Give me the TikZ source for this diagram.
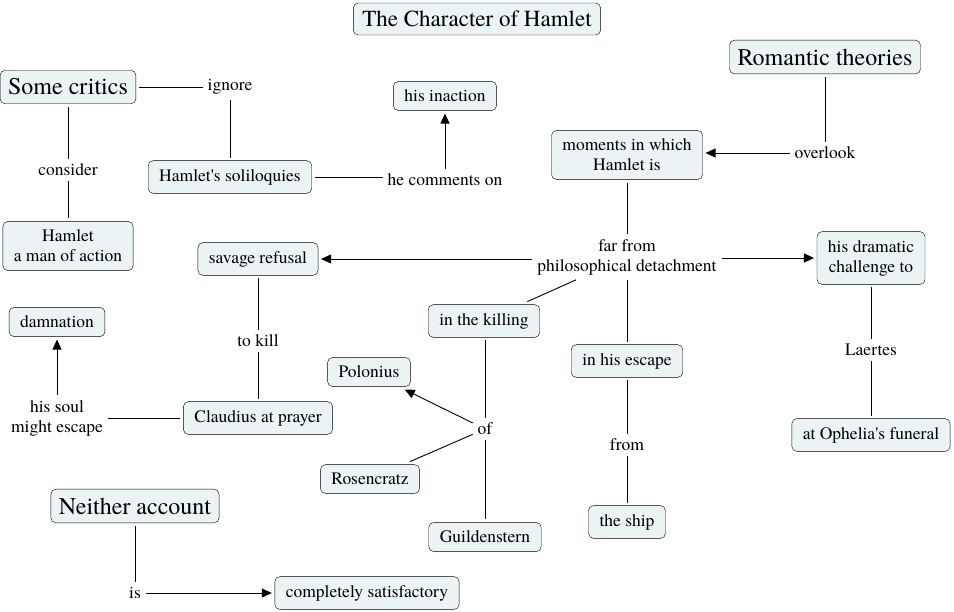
\documentclass[tikz,border=0pt]{standalone}
\usepackage{fontspec}
\setmainfont{texgyretermes}[Extension=.otf,UprightFont=*-regular,BoldFont=*-bold]
\usetikzlibrary{arrows.meta}
\definecolor{conceptfill}{HTML}{EBF3F5}

\begin{document}
\begin{tikzpicture}[
 x=1pt,y=-1pt,
 concept/.style={draw,rounded corners=5pt,fill=conceptfill,inner xsep=11pt,inner ysep=8.5pt,align=center,outer sep=3pt,font=\fontsize{17.5}{20}\selectfont},
 bigconcept/.style={concept,inner xsep=8pt,font=\fontsize{24}{28}\selectfont},
 link/.style={inner sep=2pt,outer sep=3pt,align=center,font=\fontsize{17.5}{20}\selectfont},
 con/.style={line width=0.9pt},
 arr/.style={con,-{Triangle[length=10pt,width=9pt]}}
]
\useasboundingbox (0,0) rectangle (954,611);
\node[concept,inner xsep=9pt,inner ysep=8pt,font=\fontsize{23}{26}\selectfont] (title) at (477,19) {The Character of Hamlet};
% critics branch
\node[bigconcept] (critics) at (68,87) {Some critics};
\node[link] (ignore) at (230,87) {ignore};
\node[link] (consider) at (68,170) {consider};
\node[concept] (action) at (68,246) {Hamlet\\a man of action};
\node[concept] (soliloquies) at (230,177) {Hamlet\textquotesingle s soliloquies};
\node[link] (comments) at (445,180) {he comments on};
\node[concept] (inaction) at (445,96) {his inaction};
% romantic branch
\node[bigconcept] (romantic) at (825,57) {Romantic theories};
\node[link] (overlook) at (825,153) {overlook};
\node[concept] (moments) at (627,155) {moments in which\\Hamlet is};
\node[link] (far) at (627,257) {far from\\philosophical detachment};
\node[concept] (savage) at (258,259) {savage refusal};
\node[link] (tokill) at (258,341) {to kill};
\node[concept] (claudius) at (258,418) {Claudius at prayer};
\node[link] (soul) at (57,418) {his soul\\might escape};
\node[concept] (damnation) at (57,322) {damnation};
\node[concept] (challenge) at (871,258) {his dramatic\\challenge to};
\node[link] (laertes) at (871,350) {Laertes};
\node[concept] (funeral) at (871,435) {at Ophelia\textquotesingle s funeral};
\node[concept] (killing) at (484,321) {in the killing};
\node[link] (of) at (485,429) {of};
\node[concept] (polonius) at (369,372) {Polonius};
\node[concept] (rosencratz) at (370,479) {Rosencratz};
\node[concept] (guildenstern) at (485,537) {Guildenstern};
\node[concept] (escape) at (627,361) {in his escape};
\node[link] (from) at (627,445) {from};
\node[concept] (ship) at (627,522) {the ship};
% neither
\node[bigconcept] (neither) at (135,506) {Neither account};
\node[link] (is) at (135,593) {is};
\node[concept] (satisfactory) at (367,593) {completely satisfactory};
% connectors
\draw[con] (critics)--(ignore); \draw[con] (ignore)--(soliloquies);
\draw[con] (critics)--(consider); \draw[con] (consider)--(action);
\draw[con] (soliloquies.east)--(soliloquies.east-|comments.west); \draw[arr] (comments)--(inaction);
\draw[con] (romantic)--(overlook); \draw[arr] (overlook.west)--(overlook.west-|moments.east);
\draw[con] (moments)--(far);
\draw[arr] (far.west|-savage)--(savage); \draw[arr] (far.east|-challenge)--(challenge);
\draw[con] (far)--(killing); \draw[con] (far)--(escape);
\draw[con] (savage)--(tokill); \draw[con] (tokill)--(claudius);
\draw[con] (claudius)--(soul); \draw[arr] (soul)--(damnation);
\draw[con] (challenge)--(laertes); \draw[con] (laertes)--(funeral);
\draw[con] (killing.south-|of)--(of); \draw[arr] (of)--(polonius);
\draw[con] (of)--(rosencratz); \draw[con] (of)--(guildenstern);
\draw[con] (escape)--(from); \draw[con] (from)--(ship);
\draw[con] (neither)--(is); \draw[arr] (is)--(satisfactory);
\end{tikzpicture}
\end{document}
